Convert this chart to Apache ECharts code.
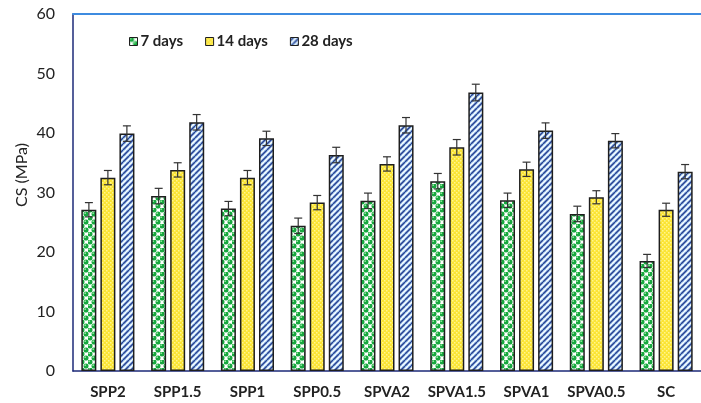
<!DOCTYPE html>
<html>
<head>
<meta charset="utf-8">
<script src="https://cdn.jsdelivr.net/npm/echarts@6/dist/echarts.min.js"></script>
<style>
  html, body { margin: 0; padding: 0; background: #fff; }
  #chart { width: 701px; height: 403px; }
</style>
</head>
<body>
<div id="chart"></div>
<script>
// Compressive strength of the mixes at 7, 14 and 28 days
const categories = ['SPP2', 'SPP1.5', 'SPP1', 'SPP0.5', 'SPVA2', 'SPVA1.5', 'SPVA1', 'SPVA0.5', 'SC'];
const seriesNames = ['7 days', '14 days', '28 days'];
const days7 = [27.1, 29.4, 27.3, 24.4, 28.6, 31.9, 28.7, 26.4, 18.5];
const days14 = [32.5, 33.8, 32.5, 28.3, 34.8, 37.6, 33.9, 29.2, 27.1];
const days28 = [39.9, 41.8, 39.1, 36.3, 41.3, 46.8, 40.4, 38.7, 33.5];
const err7 = [1.2, 1.3, 1.2, 1.3, 1.3, 1.3, 1.2, 1.3, 1.1];
const err14 = [1.2, 1.2, 1.2, 1.2, 1.2, 1.3, 1.2, 1.1, 1.1];
const err28 = [1.3, 1.3, 1.2, 1.3, 1.3, 1.4, 1.3, 1.2, 1.2];
const yTicks = [0, 10, 20, 30, 40, 50, 60];

// Fill patterns for the bars
function makeTile(w, h, draw) {
  const c = document.createElement('canvas');
  c.width = w; c.height = h;
  draw(c.getContext('2d'));
  return c;
}
const greenDots = makeTile(8, 8, (g) => {
  g.fillStyle = '#ffffff'; g.fillRect(0, 0, 8, 8);
  const dot = (x, y) => {
    g.beginPath(); g.arc(x, y, 2.5, 0, Math.PI * 2);
    g.fillStyle = '#17a83e'; g.fill();
    g.beginPath(); g.arc(x - 0.8, y - 0.8, 0.9, 0, Math.PI * 2);
    g.fillStyle = '#8ee39b'; g.fill();
  };
  dot(2, 2); dot(6, 6);
  dot(6 - 8, 6); dot(6, 6 - 8); dot(-2, -2);
});
const yellowDots = makeTile(4, 4, (g) => {
  g.fillStyle = '#fbe433'; g.fillRect(0, 0, 4, 4);
  g.fillStyle = '#fff590';
  g.fillRect(0, 0, 1.5, 1.5);
  g.fillRect(2, 2, 1.5, 1.5);
});
const blueStripes = makeTile(6, 6, (g) => {
  g.fillStyle = '#9cc9f0'; g.fillRect(0, 0, 6, 6);
  g.lineWidth = 1.3;
  const stripe = (color, off) => {
    g.strokeStyle = color;
    for (let k = -2; k <= 2; k++) {
      g.beginPath();
      g.moveTo(k * 6 + off, 6);
      g.lineTo(k * 6 + off + 6, 0);
      g.stroke();
    }
  };
  stripe('#ffffff', 0);
  stripe('#2a3f8f', 3);
});
const fills = [
  { image: greenDots, repeat: 'repeat' },
  { image: yellowDots, repeat: 'repeat' },
  { image: blueStripes, repeat: 'repeat' }
];
const values = [days7, days14, days28];
const errors = [err7, err14, err28];

const chart = echarts.init(document.getElementById('chart'), null, { renderer: 'canvas' });

const barSeries = values.map((vals, i) => ({
  name: seriesNames[i],
  type: 'bar',
  data: vals,
  barWidth: 15,
  barGap: '27%',
  itemStyle: { color: fills[i], borderColor: '#1e1e1e', borderWidth: 1.5 },
  z: 2
}));

// Error bars: one custom series per age, placed over the matching bar
const errorSeries = values.map((vals, i) => ({
  type: 'custom',
  name: seriesNames[i] + ' err',
  data: vals.map((v, j) => [j, v, errors[i][j]]),
  z: 5,
  silent: true,
  renderItem: function (params, api) {
    const idx = api.value(0);
    const v = api.value(1);
    const e = api.value(2);
    const hi = api.coord([idx, v + e]);
    const lo = api.coord([idx, v - e]);
    // bars of a group: width 15, gap 4 -> offsets -19, 0, +19
    const offset = (i - 1) * 19;
    const x = hi[0] + offset;
    const cap = 4;
    const style = { stroke: '#333333', lineWidth: 1.2 };
    return {
      type: 'group',
      children: [
        { type: 'line', shape: { x1: x, y1: hi[1], x2: x, y2: lo[1] }, style },
        { type: 'line', shape: { x1: x - cap, y1: hi[1], x2: x + cap, y2: hi[1] }, style },
        { type: 'line', shape: { x1: x - cap, y1: lo[1], x2: x + cap, y2: lo[1] }, style }
      ]
    };
  }
}));

chart.setOption({
  animation: false,
  backgroundColor: '#ffffff',
  grid: { left: 73, top: 14, width: 630, bottom: 32, containLabel: false },
  legend: {
    data: seriesNames,
    top: 29,
    left: 124,
    itemWidth: 8,
    itemHeight: 8,
    itemGap: 22,
    icon: 'rect',
    itemStyle: { borderColor: '#1e1e1e', borderWidth: 1 },
    textStyle: { fontFamily: 'Lato', fontSize: 15, fontWeight: 'bold', color: '#222222', padding: [0, 0, 0, -2] }
  },
  xAxis: [
    {
      type: 'category',
      data: categories,
      axisLine: { lineStyle: { color: '#1c2a78', width: 1.5 } },
      axisTick: { show: false },
      axisLabel: { interval: 0, margin: 14, fontFamily: 'Lato', fontSize: 15, fontWeight: 'bold', color: '#222222' }
    },
    {
      type: 'category',
      position: 'top',
      data: categories,
      axisLine: { lineStyle: { color: '#3d8be0', width: 2 } },
      axisTick: { show: false },
      axisLabel: { show: false }
    }
  ],
  yAxis: {
    type: 'value',
    min: yTicks[0],
    max: yTicks[yTicks.length - 1],
    interval: 10,
    axisLine: { show: true, lineStyle: { color: '#1c2a78', width: 1.5 } },
    axisTick: { show: false },
    splitLine: { show: false },
    axisLabel: { margin: 18, fontFamily: 'Lato', fontSize: 16, color: '#222222' }
  },
  graphic: [{
    type: 'text',
    x: 22,
    y: 175,
    rotation: Math.PI / 2,
    style: {
      text: 'CS (MPa)',
      fontFamily: 'Lato',
      fontSize: 16,
      fill: '#222222',
      textAlign: 'center',
      textVerticalAlign: 'middle'
    }
  }],
  series: barSeries.concat(errorSeries)
});
</script>
</body>
</html>
